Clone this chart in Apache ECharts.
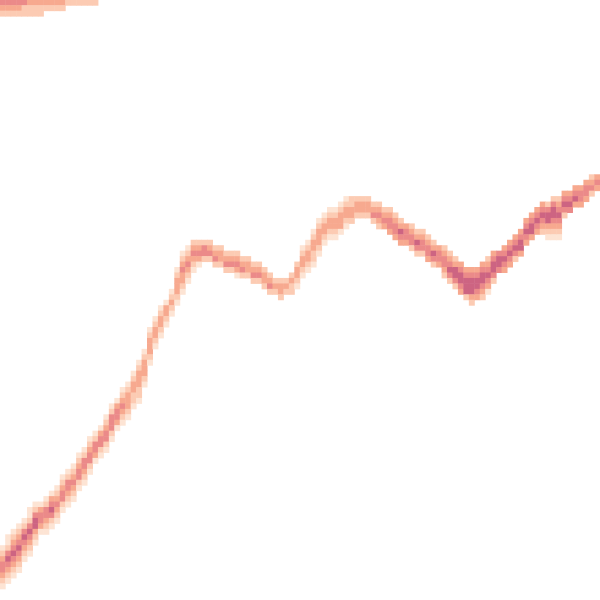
<!DOCTYPE html>
<html><head><meta charset="utf-8">
<script src="https://cdn.jsdelivr.net/npm/echarts@6/dist/echarts.min.js"></script>
<style>html,body{margin:0;padding:0;background:#fff}#c{width:600px;height:600px}</style>
</head><body><div id="c"></div>
<script>
// Grid of density cells (columns x rows)
const nCols = 110;
const nRows = 110;
// top row index of the band in each column
const bandTop = [100,98,97,96,95,93,92,92,91,90,89,87,86,85,83,82,80,79,78,76,
74,73,71,70,68,66,64,60,58,56,55,53,49,46,45,44,44,44,44,45,
45,46,46,46,47,47,48,48,49,50,51,51,51,50,48,45,44,42,40,39,
38,38,37,36,36,36,36,36,37,37,38,38,39,40,41,41,42,42,43,44,
45,45,46,47,48,49,49,49,48,47,46,46,45,44,43,42,40,39,38,37,
37,36,36,35,35,34,34,33,32,32];
// density levels (1..5) going down from bandTop in each column
const bandLevels = ["12344321","112454321","123454321","123454321","12454321","112454321","12455321","134431","1244321","1345421",
"1234321","1234421","1244321","1234321","1234421","1244321","1234421","124431","134421","1234421",
"1244421","134431","1234321","1233321","1233221","12333221","1233321","1233321","123321","123321",
"13321","12321","1233321","12343321","1234321","234321","23431","2442","2342","2342",
"2332","2342","2342","23431","2342","2332","2342","2342","2332","2342",
"232","2332","232","2322","23321","123321","123321","1233221","1233321","123321",
"123321","123321","123331","123321","22332","2332","2332","2332","2342","23432",
"2343","23443","23443","23543","3443","23442","23542","23442","23443","23542",
"3443","234432","234542","235542","345543","345552","3455532","345543","3455432","2345431",
"345542","4554","34543","34543","34542","34553","34543","34553","34543","345432",
"2455321","24554321","23454321","34542","3454","3453","3443","3443","2342","343"];
// strip along the top edge, rows 0..2 starting at column 0
const capLevels = ["444443333333222222","333322222222","22222222"];
const levelColors = ['#fde4d4','#fccbb3','#f7a98f','#eb8a89','#cd6482'];

const data = [];
bandLevels.forEach((s, c) => {
  for (let i = 0; i < s.length; i++) data.push([c, bandTop[c] + i, +s[i]]);
});
capLevels.forEach((s, r) => {
  for (let i = 0; i < s.length; i++) data.push([i, r, +s[i]]);
});

const chart = echarts.init(document.getElementById('c'), null, {renderer: 'canvas'});
chart.setOption({
  backgroundColor: '#ffffff',
  animation: false,
  grid: {left: 0, right: 0, top: 0, bottom: 0},
  xAxis: {type: 'category', data: Array.from({length: nCols}, (_, i) => i), show: false},
  yAxis: {type: 'category', data: Array.from({length: nRows}, (_, i) => i), inverse: true, show: false},
  visualMap: {show: false, min: 1, max: 5, dimension: 2, inRange: {color: levelColors}},
  series: [{type: 'heatmap', data: data, itemStyle: {borderWidth: 0}, emphasis: {disabled: true}}]
});
</script></body></html>
